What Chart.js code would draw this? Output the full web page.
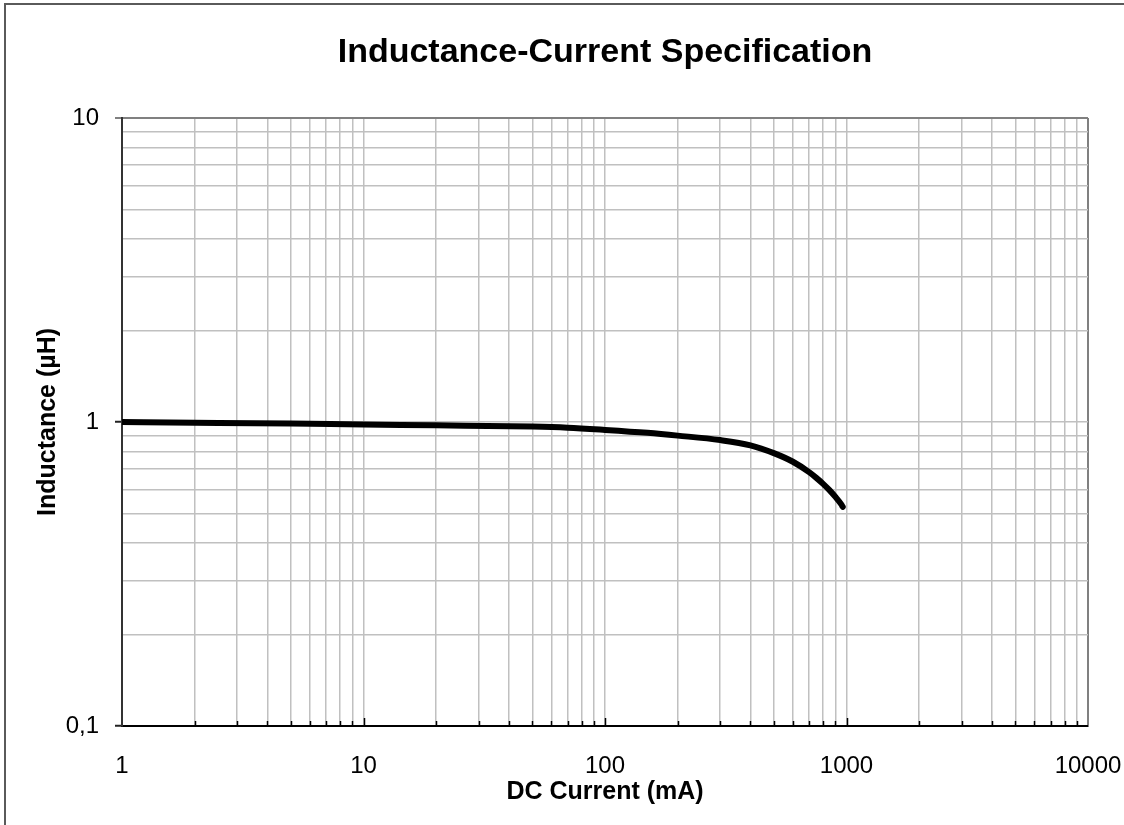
<!DOCTYPE html>
<html>
<head>
<meta charset="utf-8">
<script src="https://cdn.jsdelivr.net/npm/chart.js@4/dist/chart.umd.min.js"></script>
<style>
  html, body { margin: 0; padding: 0; background: #fff; }
  #wrap { position: relative; width: 1124px; height: 825px; overflow: hidden; }
  #frame { position: absolute; left: 4px; top: 3px; width: 2000px; height: 2000px;
           border-left: 2px solid #5a5a5a; border-top: 2px solid #5a5a5a; pointer-events: none; }
  canvas { position: absolute; left: 0; top: 0; }
</style>
</head>
<body>
<div id="wrap">
  <canvas id="c" width="1124" height="825"></canvas>
  <div id="frame"></div>
</div>
<script>
// ---- data ----
const currents   = [1, 2, 5, 10, 20, 50, 70, 100, 150, 200, 300, 400, 500, 600, 700, 750, 800, 850, 900, 950, 965];
const inductance = [1.0, 0.995, 0.988, 0.981, 0.975, 0.966, 0.958, 0.942, 0.921, 0.902, 0.872, 0.838, 0.790, 0.740, 0.684, 0.655, 0.626, 0.597, 0.567, 0.537, 0.526];

const xTickValues = [];
for (let e = 0; e < 4; e++) for (let m = 1; m < 10; m++) xTickValues.push(m * Math.pow(10, e));
xTickValues.push(10000);
const yTickValues = [];
for (let e = -1; e < 1; e++) for (let m = 1; m < 10; m++) yTickValues.push(+(m * Math.pow(10, e)).toFixed(2));
yTickValues.push(10);

const xLabels = {1: '1', 10: '10', 100: '100', 1000: '1000', 10000: '10000'};
const yLabels = {0.1: '0,1', 1: '1', 10: '10'};

const FONT = "'Liberation Sans', Arial, sans-serif";
const isPow10 = v => Math.abs(Math.log10(v) - Math.round(Math.log10(v))) < 1e-9;

const innerTicks = {
  id: 'innerTicks',
  afterDatasetsDraw(chart) {
    const x = chart.scales.x, ctx = chart.ctx, b = chart.chartArea.bottom;
    ctx.save();
    ctx.strokeStyle = '#000';
    ctx.lineWidth = 1.5;
    xTickValues.forEach(v => {
      if (v === 1 || v === 10000) return;
      const px = Math.round(x.getPixelForValue(v)) + 0.5;
      const len = isPow10(v) ? 8 : 5;
      ctx.beginPath(); ctx.moveTo(px, b); ctx.lineTo(px, b - len); ctx.stroke();
    });
    ctx.restore();
  }
};

new Chart(document.getElementById('c'), {
  type: 'line',
  data: {
    datasets: [{
      data: currents.map((c, i) => ({x: c, y: inductance[i]})),
      borderColor: '#000',
      borderWidth: 6,
      borderCapStyle: 'round',
      borderJoinStyle: 'round',
      pointRadius: 0,
      cubicInterpolationMode: 'monotone',
      fill: false
    }]
  },
  options: {
    responsive: false,
    animation: false,
    devicePixelRatio: 1,
    layout: { padding: { right: 36, left: 0, top: 0, bottom: 0 } },
    plugins: {
      legend: { display: false },
      tooltip: { enabled: false },
      title: {
        display: true,
        fullSize: false,
        text: 'Inductance-Current Specification',
        color: '#000',
        font: { family: FONT, size: 34, weight: 'bold', lineHeight: 1.2 },
        padding: { top: 32, bottom: 45.2 }
      }
    },
    scales: {
      x: {
        type: 'logarithmic',
        min: 1, max: 10000,
        afterBuildTicks: s => { s.ticks = xTickValues.map(v => ({value: v, major: isPow10(v)})); },
        afterFit: s => { s.height = 99; s.paddingRight = 0; s.paddingLeft = 0; },
        ticks: {
          autoSkip: false, maxRotation: 0, minRotation: 0,
          padding: 26,
          color: '#000',
          font: { family: FONT, size: 24 },
          callback: v => xLabels[v] || ''
        },
        grid: {
          drawTicks: false,
          color: c => (c.tick && c.tick.value === 10000) ? '#808080' : '#c0c0c0',
          lineWidth: c => (c.tick && c.tick.value === 10000) ? 2 : 1.5
        },
        border: { display: true, color: '#000', width: 2 },
        title: {
          display: true,
          text: 'DC Current (mA)',
          color: '#000',
          font: { family: FONT, size: 25, weight: 'bold', lineHeight: 1.2 },
          padding: { top: 0, bottom: 18 }
        }
      },
      y: {
        type: 'logarithmic',
        min: 0.1, max: 10,
        afterBuildTicks: s => { s.ticks = yTickValues.map(v => ({value: v, major: isPow10(v)})); },
        afterFit: s => { s.width = 122; s.paddingTop = 0; s.paddingBottom = 0; },
        ticks: {
          autoSkip: false,
          padding: 16,
          color: '#000',
          font: { family: FONT, size: 24 },
          callback: v => yLabels[v] || ''
        },
        grid: {
          drawTicks: true,
          tickLength: 7,
          tickWidth: 2,
          tickColor: c => {
            const v = c.tick ? c.tick.value : 0;
            if (v === 10) return '#808080';
            return isPow10(v) ? '#222' : 'rgba(0,0,0,0)';
          },
          color: c => (c.tick && c.tick.value === 10) ? '#808080' : '#c0c0c0',
          lineWidth: c => (c.tick && c.tick.value === 10) ? 2 : 1.5
        },
        border: { display: true, color: '#333', width: 2 },
        title: {
          display: true,
          text: 'Inductance (µH)',
          color: '#000',
          font: { family: FONT, size: 25, weight: 'bold', lineHeight: 1.2 },
          padding: { top: 33, bottom: 0 }
        }
      }
    }
  },
  plugins: [innerTicks]
});
</script>
</body>
</html>
